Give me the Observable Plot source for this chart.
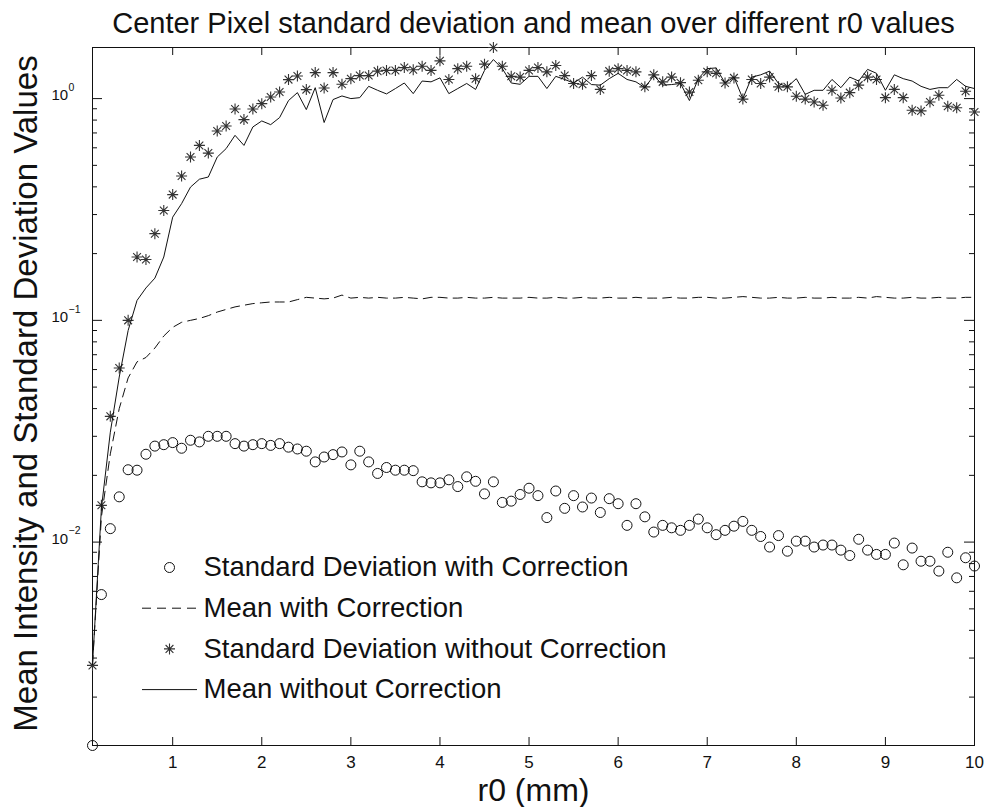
<!DOCTYPE html>
<html>
<head>
<meta charset="utf-8">
<script src="https://cdn.jsdelivr.net/npm/d3@7"></script>
<script src="https://cdn.jsdelivr.net/npm/@observablehq/plot@0.6"></script>
<style>
  html, body { margin: 0; padding: 0; background: #fff; }
  #chart svg { display: block; }
</style>
</head>
<body>
<div id="chart"></div>
<script>
// r0 sample grid (mm): 0.1 ... 10.0
const r0 = d3.range(1, 101).map(i => i / 10);

// Standard Deviation with Correction (circles)
const sdWith = [
  0.00121, 0.0058, 0.0115, 0.016, 0.0212, 0.0211, 0.0249, 0.0271, 0.0275, 0.0281,
  0.0265, 0.0288, 0.0283, 0.0300, 0.0300, 0.0300, 0.0278, 0.0271, 0.0275, 0.0278,
  0.0273, 0.0278, 0.0268, 0.0263, 0.0257, 0.0230, 0.0242, 0.0248, 0.0255, 0.0223,
  0.0257, 0.0230, 0.0204, 0.0217, 0.0211, 0.0211, 0.0210, 0.0187, 0.0185, 0.0185,
  0.0191, 0.0178, 0.0197, 0.0188, 0.0165, 0.0187, 0.0151, 0.0153, 0.0164, 0.0175,
  0.0162, 0.0129, 0.0170, 0.0142, 0.0162, 0.0144, 0.0158, 0.0136, 0.0157, 0.0149,
  0.0119, 0.0149, 0.0130, 0.0111, 0.0119, 0.0116, 0.0113, 0.0119, 0.0127, 0.0116,
  0.0108, 0.0113, 0.0118, 0.0124, 0.0113, 0.0106, 0.0095, 0.0107, 0.0091, 0.0101,
  0.0101, 0.0095, 0.0097, 0.0097, 0.0092, 0.0087, 0.0103, 0.0092, 0.0088, 0.0088,
  0.0099, 0.0079, 0.0094, 0.0082, 0.0082, 0.0074, 0.0090, 0.0069, 0.0085, 0.0078
];

// Mean with Correction (dashed line)
const meanWith = [
  0.0028, 0.013, 0.025, 0.040, 0.055, 0.065, 0.068, 0.075, 0.085, 0.093,
  0.098, 0.100, 0.102, 0.105, 0.109, 0.112, 0.115, 0.117, 0.119, 0.120,
  0.121, 0.121, 0.121, 0.124, 0.127, 0.126, 0.125, 0.126, 0.130, 0.126,
  0.127, 0.126, 0.127, 0.126, 0.126, 0.127, 0.126, 0.125, 0.127, 0.127,
  0.126, 0.126, 0.127, 0.126, 0.126, 0.127, 0.126, 0.126, 0.126, 0.127,
  0.126, 0.126, 0.127, 0.126, 0.126, 0.127, 0.126, 0.126, 0.127, 0.126,
  0.126, 0.127, 0.126, 0.126, 0.126, 0.127, 0.126, 0.126, 0.127, 0.127,
  0.126, 0.126, 0.127, 0.128, 0.127, 0.126, 0.126, 0.127, 0.126, 0.126,
  0.127, 0.126, 0.126, 0.127, 0.126, 0.126, 0.127, 0.126, 0.128, 0.127,
  0.126, 0.126, 0.127, 0.126, 0.126, 0.127, 0.126, 0.126, 0.127, 0.127
];

// Standard Deviation without Correction (asterisks)
const sdWithout = [
  0.00278, 0.01465, 0.0369, 0.061, 0.100, 0.193, 0.188, 0.246, 0.313, 0.369,
  0.448, 0.545, 0.615, 0.568, 0.714, 0.752, 0.898, 0.804, 0.898, 0.949,
  1.017, 1.071, 1.218, 1.264, 1.098, 1.31, 1.116, 1.31, 1.16, 1.23,
  1.27, 1.27, 1.33, 1.34, 1.34, 1.38, 1.35, 1.40, 1.34, 1.48,
  1.22, 1.365, 1.40, 1.23, 1.43, 1.70, 1.40, 1.26, 1.25, 1.34,
  1.38, 1.32, 1.41, 1.27, 1.17, 1.16, 1.27, 1.10, 1.33, 1.365,
  1.34, 1.32, 1.13, 1.28, 1.19, 1.25, 1.18, 1.07, 1.21, 1.32,
  1.30, 1.176, 1.24, 0.995, 1.22, 1.17, 1.25, 1.13, 1.13, 1.024,
  0.995, 0.965, 0.933, 1.09, 1.006, 1.064, 1.15, 1.25, 1.22, 1.01,
  1.10, 1.01, 0.886, 0.88, 0.965, 1.035, 0.923, 0.91, 1.08, 0.87
];

// Mean without Correction (solid line)
const meanWithout = [
  0.0028, 0.0142, 0.0313, 0.0555, 0.090, 0.123, 0.140, 0.155, 0.193, 0.292,
  0.336, 0.399, 0.433, 0.443, 0.545, 0.595, 0.683, 0.615, 0.745, 0.793,
  0.763, 0.821, 0.98, 1.064, 0.892, 1.12, 0.78, 0.99, 1.028, 1.0,
  1.01, 1.136, 1.09, 1.05, 1.11, 1.176, 1.053, 1.2, 1.19, 1.24,
  1.053, 1.11, 1.17, 1.10, 1.34, 1.50, 1.365, 1.176, 1.16, 1.26,
  1.26, 1.11, 1.26, 1.22, 1.176, 1.25, 1.157, 1.15, 1.23, 1.30,
  1.22, 1.19, 1.12, 1.27, 1.15, 1.157, 1.17, 0.98, 1.23, 1.365,
  1.375, 1.176, 1.25, 1.0, 1.25, 1.28, 1.33, 1.17, 1.13, 1.23,
  1.045, 1.09, 1.09, 1.22, 1.12, 1.25, 1.2, 1.355, 1.30, 1.09,
  1.28, 1.23, 1.2, 1.136, 1.10, 1.12, 1.12, 1.22, 1.136, 1.11
];

const xTicks = [1, 2, 3, 4, 5, 6, 7, 8, 9, 10];
const yTicks = [1, 0.1, 0.01];
const yTickExponents = ["0", "\u22121", "\u22122"];

const titleText = "Center Pixel standard deviation and mean over different r0 values";
const xLabelText = "r0 (mm)";
const yLabelText = "Mean Intensity and Standard Deviation Values";
const legendLabels = [
  "Standard Deviation with Correction",
  "Mean with Correction",
  "Standard Deviation without Correction",
  "Mean without Correction"
];

// ---- build table ----
const table = r0.map((x, i) => ({
  r0: x,
  sdWith: sdWith[i],
  meanWith: meanWith[i],
  sdWithout: sdWithout[i],
  meanWithout: meanWithout[i]
}));

const allVals = [...sdWith, ...meanWith, ...sdWithout, ...meanWithout];
const yDomain = d3.extent(allVals);           // tight axes, as in the original
const xDomain = d3.extent(r0);

const W = 987, H = 807;
const mT = 47, mR = 13, mB = 62, mL = 92;
const innerW = W - mL - mR, innerH = H - mT - mB;

// minor log ticks inside the domain
const yMinor = [1e-3, 1e-2, 1e-1, 1].flatMap(b => [2,3,4,5,6,7,8,9].map(k => k * b))
  .filter(v => v >= yDomain[0] && v <= yDomain[1]);

// 8-spoke asterisk marker (like MATLAB '*')
const star = {
  draw(context, size) {
    const r = Math.sqrt(size / Math.PI);
    const d = r * Math.SQRT1_2;
    context.moveTo(-r, 0); context.lineTo(r, 0);
    context.moveTo(0, -r); context.lineTo(0, r);
    context.moveTo(-d, -d); context.lineTo(d, d);
    context.moveTo(-d, d); context.lineTo(d, -d);
  }
};

const ink = "#111";
const dash = "9,6";

// legend layout
const legTop = 520, legGap = 40.7, legMarkX = 77, legLineX0 = 50, legLineX1 = 105, legTextX = 111;
const legendMarks = legendLabels.flatMap((label, i) => {
  const dy = legTop + i * legGap;
  const ms = [];
  if (i === 0) ms.push(Plot.dot([0], {frameAnchor: "top-left", dx: legMarkX, dy, r: 5, stroke: ink, fill: "none", strokeWidth: 1}));
  if (i === 2) ms.push(Plot.dot([0], {frameAnchor: "top-left", dx: legMarkX, dy, r: 5.5, symbol: star, stroke: "#333", fill: "none", strokeWidth: 1.1}));
  if (i === 1 || i === 3) ms.push(Plot.ruleY([yDomain[1]], {
    y: d => d, dy, insetLeft: legLineX0, insetRight: innerW - legLineX1,
    stroke: ink, strokeWidth: 1, strokeDasharray: i === 1 ? dash : null
  }));
  ms.push(Plot.text([label], {
    frameAnchor: "top-left", text: d => d, dx: legTextX, dy,
    textAnchor: "start", lineAnchor: "middle", fontSize: 27.5, fill: ink
  }));
  return ms;
});

const chart = Plot.plot({
  width: W, height: H,
  marginTop: mT, marginRight: mR, marginBottom: mB, marginLeft: mL,
  style: {fontFamily: "'Liberation Sans', Arial, Helvetica, sans-serif", background: "#fff", color: ink, overflow: "visible"},
  x: {domain: xDomain},
  y: {type: "log", domain: yDomain, axis: null},
  marks: [
    // tick labels & axis titles
    Plot.axisX(xTicks, {tickSize: 0, tickPadding: 10, fontSize: 17, label: null, tickFormat: d => String(d), fill: ink}),
    Plot.text(yTicks, {y: d => d, frameAnchor: "left", text: () => "10", textAnchor: "start", lineAnchor: "middle", dx: -41, dy: -3, fontSize: 15, fill: ink}),
    Plot.text(yTicks, {y: d => d, frameAnchor: "left", text: (d, i) => yTickExponents[i], textAnchor: "start", lineAnchor: "middle", dx: -24, dy: -11, fontSize: 10.5, fill: ink}),
    Plot.text([titleText], {frameAnchor: "top", text: d => d, dy: -15, lineAnchor: "bottom", fontSize: 29, fill: ink}),
    Plot.text([xLabelText], {frameAnchor: "bottom", text: d => d, dy: 55, lineAnchor: "bottom", fontSize: 32, fill: ink}),
    Plot.text([yLabelText], {frameAnchor: "left", text: d => d, rotate: -90, dx: -56, dy: -3, textAnchor: "middle", lineAnchor: "bottom", fontSize: 33, fill: ink}),

    // inward ticks (bottom, top, left, right)
    Plot.ruleX(xTicks, {x: d => d, insetTop: innerH - 8, stroke: ink}),
    Plot.ruleX(xTicks, {x: d => d, insetBottom: innerH - 8, stroke: ink}),
    Plot.ruleY(yTicks, {y: d => d, insetRight: innerW - 10, stroke: ink}),
    Plot.ruleY(yMinor, {y: d => d, insetRight: innerW - 5, stroke: ink}),
    Plot.ruleY(yTicks, {y: d => d, insetLeft: innerW - 10, stroke: ink}),
    Plot.ruleY(yMinor, {y: d => d, insetLeft: innerW - 5, stroke: ink}),
    Plot.frame({stroke: ink, strokeWidth: 1}),

    // data
    Plot.dot(table, {x: "r0", y: "sdWith", r: 5, stroke: ink, fill: "none", strokeWidth: 1}),
    Plot.line(table, {x: "r0", y: "meanWith", stroke: ink, strokeWidth: 1, strokeDasharray: dash}),
    Plot.dot(table, {x: "r0", y: "sdWithout", r: 5.5, symbol: star, stroke: "#333", fill: "none", strokeWidth: 1.1}),
    Plot.line(table, {x: "r0", y: "meanWithout", stroke: ink, strokeWidth: 1}),

    // legend
    ...legendMarks
  ]
});

document.getElementById("chart").appendChild(chart);
</script>
</body>
</html>
